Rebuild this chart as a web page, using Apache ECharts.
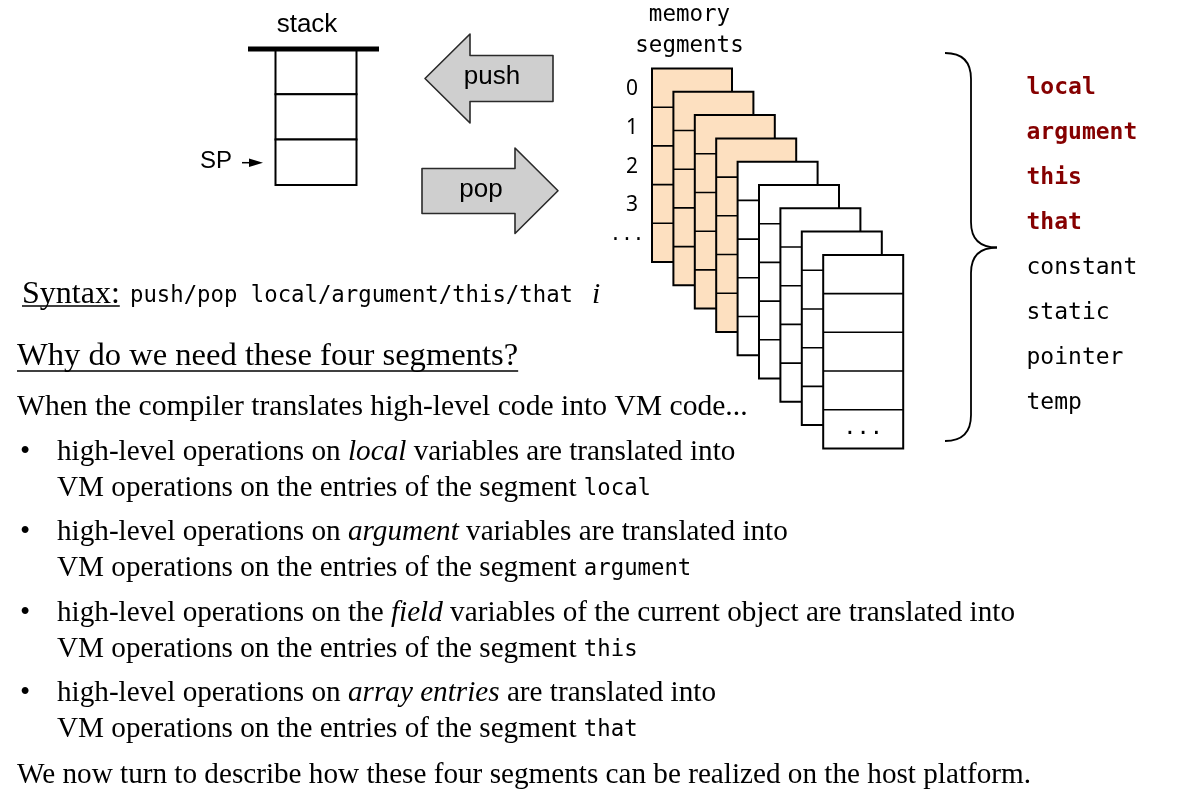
<!DOCTYPE html>
<html>
<head>
<meta charset="utf-8">
<script src="https://cdn.jsdelivr.net/npm/echarts@6/dist/echarts.min.js"></script>
<style>
  html, body { margin: 0; padding: 0; background: #fff; }
  #chart { width: 1194px; height: 791px; }
</style>
</head>
<body>
<div id="chart"></div>
<script>
// segment names listed beside the brace; the first four are the ones this slide is about
const segmentNames = ['local', 'argument', 'this', 'that', 'constant', 'static', 'pointer', 'temp'];
const highlighted = [true, true, true, true, false, false, false, false];
const rowLabels = ['0', '1', '2', '3', '...'];
const cardCount = 9;       // stacked segment cards in the picture
const orangeCards = 4;     // cards drawn in the peach colour
const stackSlots = 3;
const syntaxCode = 'push/pop local/argument/this/that';

// bullet text: [text, kind]  r = roman, i = italic, m = monospace
const bullets = [
  [[['high-level operations on ', 'r'], ['local', 'i'], [' variables are translated into', 'r']],
   [['VM operations on the entries of the segment ', 'r'], ['local', 'm']]],
  [[['high-level operations on ', 'r'], ['argument', 'i'], [' variables are translated into', 'r']],
   [['VM operations on the entries of the segment ', 'r'], ['argument', 'm']]],
  [[['high-level operations on the ', 'r'], ['field', 'i'], [' variables of the current object are translated into', 'r']],
   [['VM operations on the entries of the segment ', 'r'], ['this', 'm']]],
  [[['high-level operations on ', 'r'], ['array entries', 'i'], [' are translated into', 'r']],
   [['VM operations on the entries of the segment ', 'r'], ['that', 'm']]]
];

const SERIF = "'Liberation Serif', 'Times New Roman', serif";
const MONO = "'DejaVu Sans Mono', monospace";
const SANS = "'Liberation Sans', Arial, sans-serif";
const fonts = {
  r: { size: 29.2, family: SERIF },
  i: { size: 29.2, family: SERIF, style: 'italic' },
  m: { size: 22.3, family: MONO },
  lead: { size: 29.6, family: SERIF },
  head: { size: 32.6, family: SERIF },
  syn: { size: 32, family: SERIF },
  code: { size: 22.3, family: MONO }
};

const measurer = document.createElement('canvas').getContext('2d');
function cssFont(f) {
  return (f.style || 'normal') + ' ' + (f.weight || 'normal') + ' ' + f.size + 'px ' + f.family;
}
function midOffset(f) {
  measurer.font = cssFont(f);
  measurer.textBaseline = 'alphabetic';
  const a = measurer.measureText('H').actualBoundingBoxAscent;
  measurer.textBaseline = 'middle';
  const b = measurer.measureText('H').actualBoundingBoxAscent;
  measurer.textBaseline = 'alphabetic';
  return a - b;
}
function textWidth(t, f) {
  measurer.font = cssFont(f);
  return measurer.measureText(t).width;
}
// small correction between measured and drawn baseline, per family
function nudge(f) {
  if (f.family === SERIF) return 3;
  if (f.family === MONO) return 2;
  return 0;
}
// a text placed by its baseline
function baseText(t, x, baseline, f, extra) {
  return {
    type: 'text', x: x, y: baseline - midOffset(f) + nudge(f), z: 10,
    style: Object.assign({ text: t, font: cssFont(f), fill: '#000', align: 'left', verticalAlign: 'middle' }, extra || {})
  };
}
function runLine(parts, x, baseline) {
  const out = [];
  parts.forEach(function (p) {
    const f = fonts[p[1]];
    out.push(baseText(p[0], x, baseline, f));
    x += textWidth(p[0], f);
  });
  return out;
}

const chart = echarts.init(document.getElementById('chart'));
const els = [];

// stack
els.push(baseText('stack', 307, 32, { size: 26, family: SANS }, { align: 'center' }));
const slotH = 45.3;
for (let s = 0; s < stackSlots; s++) {
  els.push({ type: 'rect', shape: { x: 275.5, y: 49 + s * slotH, width: 81, height: slotH },
    style: { fill: '#fff', stroke: '#000', lineWidth: 2 } });
}
els.push({ type: 'line', shape: { x1: 248, y1: 49, x2: 379, y2: 49 }, style: { stroke: '#000', lineWidth: 5 } });
els.push(baseText('SP', 200, 167.5, { size: 24, family: SANS }));
els.push({ type: 'line', shape: { x1: 242, y1: 162.7, x2: 252, y2: 162.7 }, style: { stroke: '#000', lineWidth: 1.5 } });
els.push({ type: 'polygon', shape: { points: [[249, 158.5], [263, 162.7], [249, 167]] }, style: { fill: '#000' } });

// push / pop arrows
els.push({ type: 'polygon',
  shape: { points: [[425, 78.5], [470, 34], [470, 55.5], [553, 55.5], [553, 101.5], [470, 101.5], [470, 123]] },
  style: { fill: '#cfcfcf', stroke: '#2a2a2a', lineWidth: 1.6, lineJoin: 'round' } });
els.push(baseText('push', 492, 84, { size: 26, family: SANS }, { align: 'center' }));
els.push({ type: 'polygon',
  shape: { points: [[422, 168.5], [515, 168.5], [515, 148], [558, 190.8], [515, 233.5], [515, 213.5], [422, 213.5]] },
  style: { fill: '#cfcfcf', stroke: '#2a2a2a', lineWidth: 1.6, lineJoin: 'round' } });
els.push(baseText('pop', 481, 197, { size: 26, family: SANS }, { align: 'center' }));

// memory segments heading and row labels
els.push(baseText('memory', 689.5, 19, { size: 22.5, family: MONO }, { align: 'center' }));
els.push(baseText('segments', 689.5, 50, { size: 22.5, family: MONO }, { align: 'center' }));

const card0 = { x: 652, y: 68.5 }, cardW = 80, cardH = 193.5, dx = 21.4, dy = 23.3;
const rowH = cardH / rowLabels.length;
rowLabels.forEach(function (lab, r) {
  const cy = card0.y + (r + 0.5) * rowH;
  if (lab === '...') {
    els.push(baseText(lab, 627, cy - 5, { size: 19, family: MONO }, { align: 'center' }));
  } else {
    els.push(baseText(lab, 632, cy + 7.5, { size: 21, family: "'Noto Sans', sans-serif" }, { align: 'center' }));
  }
});

for (let k = 0; k < cardCount; k++) {
  const x0 = card0.x + k * dx, y0 = card0.y + k * dy;
  els.push({ type: 'rect', z: 2, z2: k * 10, shape: { x: x0, y: y0, width: cardW, height: cardH },
    style: { fill: k < orangeCards ? '#fde0c0' : '#fff', stroke: '#000', lineWidth: 2 } });
  for (let r = 1; r < rowLabels.length; r++) {
    els.push({ type: 'line', z: 2, z2: k * 10 + 1,
      shape: { x1: x0, y1: y0 + r * rowH, x2: x0 + cardW, y2: y0 + r * rowH },
      style: { stroke: '#000', lineWidth: 1.6 } });
  }
  if (k === cardCount - 1) {
    const dots = baseText('...', x0 + cardW / 2, y0 + cardH - 16, { size: 22, family: MONO }, { align: 'center' });
    dots.z = 2; dots.z2 = k * 10 + 2;
    els.push(dots);
  }
}

// brace
const braceStyle = { fill: null, stroke: '#000', lineWidth: 1.8 };
els.push({ type: 'bezierCurve', shape: { x1: 945, y1: 53, cpx1: 971, cpy1: 53, x2: 971, y2: 79 }, style: braceStyle });
els.push({ type: 'line', shape: { x1: 971, y1: 79, x2: 971, y2: 222 }, style: braceStyle });
els.push({ type: 'bezierCurve', shape: { x1: 971, y1: 222, cpx1: 971, cpy1: 247.5, x2: 997, y2: 247.5 }, style: braceStyle });
els.push({ type: 'bezierCurve', shape: { x1: 997, y1: 247.5, cpx1: 971, cpy1: 247.5, x2: 971, y2: 273 }, style: braceStyle });
els.push({ type: 'line', shape: { x1: 971, y1: 273, x2: 971, y2: 415 }, style: braceStyle });
els.push({ type: 'bezierCurve', shape: { x1: 971, y1: 415, cpx1: 971, cpy1: 441, x2: 945, y2: 441 }, style: braceStyle });

segmentNames.forEach(function (name, i) {
  els.push(baseText(name, 1026.5, 92 + 45 * i,
    { size: 23, family: MONO, weight: highlighted[i] ? 'bold' : 'normal' },
    { fill: highlighted[i] ? '#850000' : '#000' }));
});

// syntax line
els.push(baseText('Syntax:', 22, 299.5, fonts.syn));
els.push({ type: 'line', shape: { x1: 22, y1: 306, x2: 22 + textWidth('Syntax:', fonts.syn), y2: 306 }, style: { stroke: '#000', lineWidth: 1.4 } });
els.push(baseText(syntaxCode, 130, 299.5, fonts.code));
els.push(baseText('i', 592, 299.5, { size: 29.6, family: SERIF, style: 'italic' }));

// heading
const heading = 'Why do we need these four segments?';
els.push(baseText(heading, 17, 362, fonts.head));
els.push({ type: 'line', shape: { x1: 17, y1: 371, x2: 17 + textWidth(heading, fonts.head), y2: 371 }, style: { stroke: '#000', lineWidth: 1.4 } });

els.push.apply(els, runLine([['When the compiler translates high-level code into VM code...', 'lead']], 17, 411.5));

const bulletBase = [456.5, 536.5, 617.5, 697.5];
bullets.forEach(function (b, i) {
  els.push(baseText('\u2022', 20, bulletBase[i], fonts.r));
  els.push.apply(els, runLine(b[0], 57, bulletBase[i]));
  els.push.apply(els, runLine(b[1], 57, bulletBase[i] + 36));
});

els.push.apply(els, runLine([['We now turn to describe how these four segments can be realized on the host platform.', 'r']], 17, 779.5));

chart.setOption({
  backgroundColor: '#fff',
  animation: false,
  graphic: { elements: els }
});
</script>
</body>
</html>
